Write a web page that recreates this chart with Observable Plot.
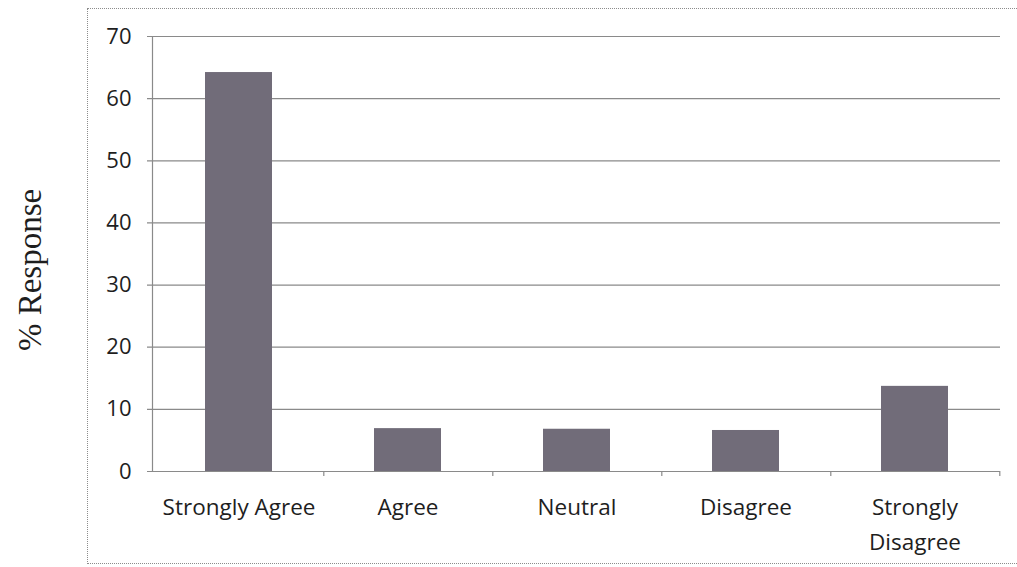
<!DOCTYPE html>
<html>
<head>
<meta charset="utf-8">
<script src="https://cdn.jsdelivr.net/npm/d3@7"></script>
<script src="https://cdn.jsdelivr.net/npm/@observablehq/plot@0.6"></script>
<style>
  html, body { margin: 0; padding: 0; background: #fff; }
  #wrap { position: relative; width: 1017px; height: 567px; overflow: hidden; }
  #border { position: absolute; left: 87px; top: 8px; width: 1000px; height: 556px;
            border: 1px dotted #8c8c8c; box-sizing: border-box; }
  #chart { position: absolute; left: 0; top: 0; }
</style>
</head>
<body>
<div id="wrap"><div id="border"></div><div id="chart"></div></div>
<script>
const categories = ["Strongly Agree", "Agree", "Neutral", "Disagree", "Strongly Disagree"];
const tickLabels = ["Strongly Agree", "Agree", "Neutral", "Disagree", "Strongly\nDisagree"];
const values = [64.2, 6.9, 6.8, 6.6, 13.7];
const yTicks = [0, 10, 20, 30, 40, 50, 60, 70];
const yTitle = "% Response";

const data = categories.map((c, i) => ({category: c, value: values[i]}));
const labelOf = new Map(categories.map((c, i) => [c, tickLabels[i]]));

const W = 1017, H = 567;
const mL = 152, mR = 17, mT = 36, mB = 96;
const step = (W - mL - mR) / categories.length;

const chart = Plot.plot({
  width: W,
  height: H,
  marginLeft: mL,
  marginRight: mR,
  marginTop: mT,
  marginBottom: mB,
  style: {fontFamily: "'Open Sans', sans-serif", color: "#1e1e1e", background: "transparent"},
  x: {domain: categories, padding: 0},
  y: {domain: [0, 70]},
  marks: [
    Plot.ruleY(yTicks, {stroke: "#8a8a8a", strokeWidth: 1.2, insetLeft: -5}),
    Plot.barY(data, {x: "category", y: "value", fill: "#716c79", insetLeft: 51, insetRight: 51}),
    Plot.ruleY([0], {stroke: "#8a8a8a", strokeWidth: 1.2}),
    Plot.frame({anchor: "left", stroke: "#8a8a8a", strokeWidth: 1.2}),
    Plot.ruleX(categories, {x: d => d, y1: 0, y2: -0.8, dx: step / 2, stroke: "#8a8a8a", strokeWidth: 1.2}),
    Plot.axisY({ticks: yTicks, tickSize: 0, tickPadding: 21, fontSize: 22, label: null}),
    Plot.axisX({tickSize: 0, tickPadding: 19, fontSize: 22.5, lineHeight: 1.55, label: null,
                tickFormat: d => labelOf.get(d)}),
    Plot.text([yTitle], {frameAnchor: "left", textAnchor: "middle", rotate: -90, dx: -122, dy: 16,
                         fontSize: 33, fontFamily: "'Liberation Serif', serif", fill: "#1e1e1e"})
  ]
});
document.getElementById("chart").appendChild(chart);
</script>
</body>
</html>
